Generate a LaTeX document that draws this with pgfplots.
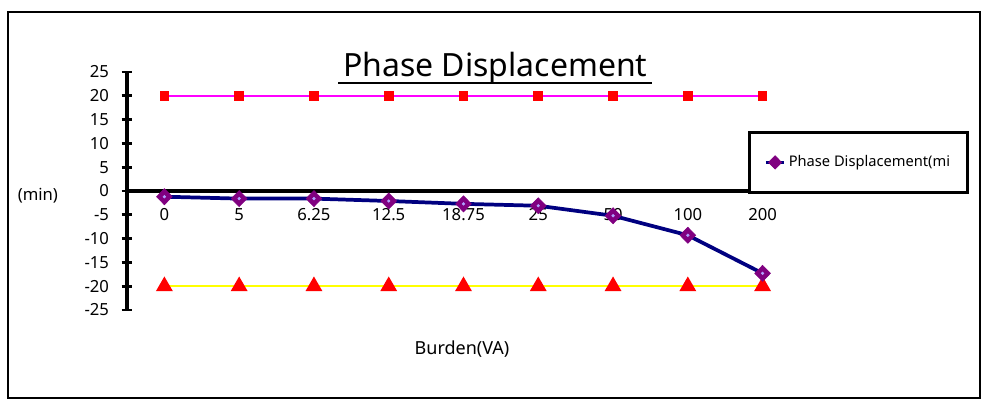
\documentclass[border=0pt]{standalone}
\usepackage{pgfplots}
\pgfplotsset{compat=1.18}
\usepackage{fontspec}
\setmainfont{Noto Sans}
\usetikzlibrary{plotmarks}
\definecolor{navy}{HTML}{000080}
\definecolor{purp}{HTML}{800080}
\definecolor{lav}{HTML}{B0A0FF}
\definecolor{mag}{HTML}{FF00FF}
\definecolor{yel}{HTML}{FFFF00}
\pgfplotstableread{
idx val
0 -1.2
1 -1.6
2 -1.6
3 -2.1
4 -2.7
5 -3.1
6 -5.2
7 -9.3
8 -17.3
}\phasetab
\pgfplotstableread{
idx val
0 20
1 20
2 20
3 20
4 20
5 20
6 20
7 20
8 20
}\uppertab
\pgfplotstableread{
idx val
0 -20
1 -20
2 -20
3 -20
4 -20
5 -20
6 -20
7 -20
8 -20
}\lowertab
\begin{document}
\begin{tikzpicture}
\useasboundingbox (0,0) rectangle (747.75pt,-306.75pt);
\draw[line width=1.6pt] (6pt,-9pt) rectangle (735pt,-298.5pt);
\begin{axis}[
  at={(95.25pt,-232.5pt)}, anchor=south west,
  scale only axis, width=504.75pt, height=178.5pt,
  xmin=-0.5, xmax=8.5, ymin=-25, ymax=25,
  axis x line=middle, axis y line=left,
  x axis line style={-, line width=2.8pt},
  y axis line style={-, line width=2.6pt},
  xtick={0,...,8},
  xticklabels={0,5,6.25,12.5,18.75,25,50,100,200},
  xtick style={draw=none},
  xticklabel style={anchor=north, yshift=-5.5pt},
  ytick={-25,-20,...,25},
  ytick style={line width=2pt, black},
  tick align=center, major tick length=8pt,
  yticklabel style={anchor=east, xshift=-6pt},
  /pgf/number format/assume math mode=true,
  tick label style={font=\fontsize{12.5}{14}\selectfont},
  clip=false,
  legend style={at={(0.9227,0.752)}, anchor=north west, line width=2.2pt,
    draw=black, fill=white, inner xsep=11pt, inner ysep=15.5pt,
    font=\fontsize{11}{13}\selectfont, legend cell align=left},
  legend image code/.code={\draw[navy, line width=2.5pt] (0pt,0pt) -- (14pt,0pt);
     \draw[purp, fill=purp] plot[mark=diamond*, mark size=5pt, mark options={xscale=1.3, line width=0.5pt}] coordinates {(7pt,0pt)};},
]
\addplot[mag, line width=1.3pt, mark=square*, mark size=3pt, mark options={draw=red, fill=red}, forget plot] table[x=idx,y=val]{\uppertab};
\addplot[yel, line width=1.3pt, mark=triangle*, mark size=6pt, mark options={draw=red, fill=red}, forget plot] table[x=idx,y=val]{\lowertab};
\addplot[navy, line width=2.8pt, mark=diamond*, mark size=6pt, mark options={draw=purp, fill=purp, line width=0.5pt, xscale=1.3}] table[x=idx,y=val]{\phasetab};
\addlegendentry{Phase Displacement(mi}
\addplot[only marks, mark=*, mark size=1pt, mark options={draw=lav, fill=lav}, forget plot] table[x=idx,y=val]{\phasetab};
\end{axis}
\node[font=\fontsize{24}{28}\selectfont, anchor=base] (t) at (371.5pt,-57.5pt) {Phase Displacement};
\draw[line width=1.5pt] ([yshift=-4.5pt]t.base west) -- ([yshift=-4.5pt]t.base east);
\node[font=\fontsize{12.5}{14}\selectfont, anchor=east] at (47pt,-146.5pt) {(min)};
\node[font=\fontsize{13.5}{15}\selectfont] at (346.5pt,-262pt) {Burden(VA)};
\end{tikzpicture}
\end{document}
